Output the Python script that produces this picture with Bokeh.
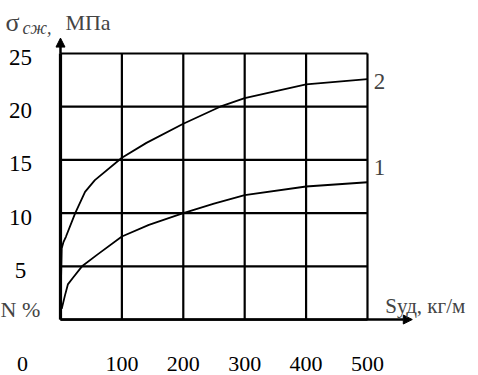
from bokeh.plotting import figure
from bokeh.models import Range1d, Label, Arrow, NormalHead
from bokeh.core.properties import value
from bokeh.embed import file_html
from bokeh.resources import INLINE

# ---- data ----
x_ticks = [0, 100, 200, 300, 400, 500]
y_ticks = [0, 5, 10, 15, 20, 25]
x_tick_labels = [str(t) for t in x_ticks]
y_tick_labels = [str(t) for t in y_ticks[1:]]

s1_x = [2, 7, 12, 20, 35, 60, 100, 144, 200, 250, 300, 400, 500]
s1_y = [1.0, 2.2, 3.3, 3.9, 5.0, 6.1, 7.8, 8.9, 10.0, 10.9, 11.7, 12.5, 12.9]

s2_x = [1, 2, 5, 9, 24, 40, 56, 100, 140, 200, 260, 300, 400, 500]
s2_y = [4.0, 6.7, 7.3, 7.8, 10.0, 12.0, 13.1, 15.2, 16.6, 18.4, 20.0, 20.8, 22.1, 22.6]

series_names = ["1", "2"]

FONT = "Liberation Serif"

xmax = max(x_ticks)
ymax = max(y_ticks)

# frame fills the whole canvas; scales chosen so that 0..500 / 0..25 sit like the reference
p = figure(width=478, height=375, output_backend="svg", toolbar_location=None,
           x_range=Range1d(-97.7, 680.8), y_range=Range1d(-5.26, 29.98),
           x_axis_type=None, y_axis_type=None,
           min_border_left=0, min_border_right=0, min_border_top=0, min_border_bottom=0)
p.title.visible = False
p.outline_line_color = None
p.background_fill_color = "white"
p.border_fill_color = "white"

# grid
n = len(x_ticks)
p.segment(x0=x_ticks, y0=[0] * n, x1=x_ticks, y1=[ymax] * n, line_color="black", line_width=2.2)
m = len(y_ticks)
p.segment(x0=[0] * m, y0=y_ticks, x1=[xmax] * m, y1=y_ticks, line_color="black", line_width=2.2)
p.segment(x0=[0], y0=[0], x1=[0], y1=[ymax], line_color="black", line_width=3.2)

# axis arrows
p.add_layout(Arrow(end=NormalHead(size=9, fill_color="black", line_color="black"),
                   x_start=0, y_start=ymax, x_end=0, y_end=ymax + 1.45,
                   line_color="black", line_width=2.5))
p.add_layout(Arrow(end=NormalHead(size=9, fill_color="black", line_color="black"),
                   x_start=0, y_start=0, x_end=573, y_end=0,
                   line_color="black", line_width=2.5))

# curves
p.line(s1_x, s1_y, line_color="black", line_width=1.8)
p.line(s2_x, s2_y, line_color="black", line_width=1.8)

# tick labels (from tick arrays, through the plot's scales)
p.text(x=[-65] * len(y_tick_labels), y=y_ticks[1:], text=y_tick_labels,
       text_font=value(FONT), text_font_size="23px", text_color="black",
       text_align="center", text_baseline="middle", y_offset=4)
p.text(x=x_ticks[1:], y=[-4.14] * (n - 1), text=x_tick_labels[1:],
       text_font=value(FONT), text_font_size="22px", text_color="black",
       text_align="center", text_baseline="middle")
p.text(x=[x_ticks[0]], y=[-4.14], text=[x_tick_labels[0]], x_offset=-38,
       text_font=value(FONT), text_font_size="22px", text_color="black",
       text_align="center", text_baseline="middle")

# curve labels
p.add_layout(Label(x=510, y=14.3, text=series_names[0], text_font=FONT, text_font_size="23px",
                   text_baseline="alphabetic"))
p.add_layout(Label(x=510, y=22.4, text=series_names[1], text_font=FONT, text_font_size="23px",
                   text_baseline="alphabetic"))

# title / axis names
p.add_layout(Label(x=-89.6, y=27.95, text="σ", text_font=FONT, text_font_size="26px",
                   text_baseline="alphabetic"))
p.add_layout(Label(x=-62, y=27.35, text="сж,", text_font=FONT, text_font_size="18px",
                   text_font_style="italic", text_baseline="alphabetic"))
p.add_layout(Label(x=8, y=27.9, text="МПа", text_font=FONT, text_font_size="22px",
                   text_baseline="alphabetic"))
p.add_layout(Label(x=-97.7, y=0.98, text="N %", text_font=FONT, text_font_size="22px",
                   text_baseline="alphabetic"))
p.add_layout(Label(x=529, y=1.26, text="Sуд, кг/м", text_font=FONT, text_font_size="21px",
                   text_baseline="alphabetic"))

open("out.html", "w").write(file_html(p, INLINE))
